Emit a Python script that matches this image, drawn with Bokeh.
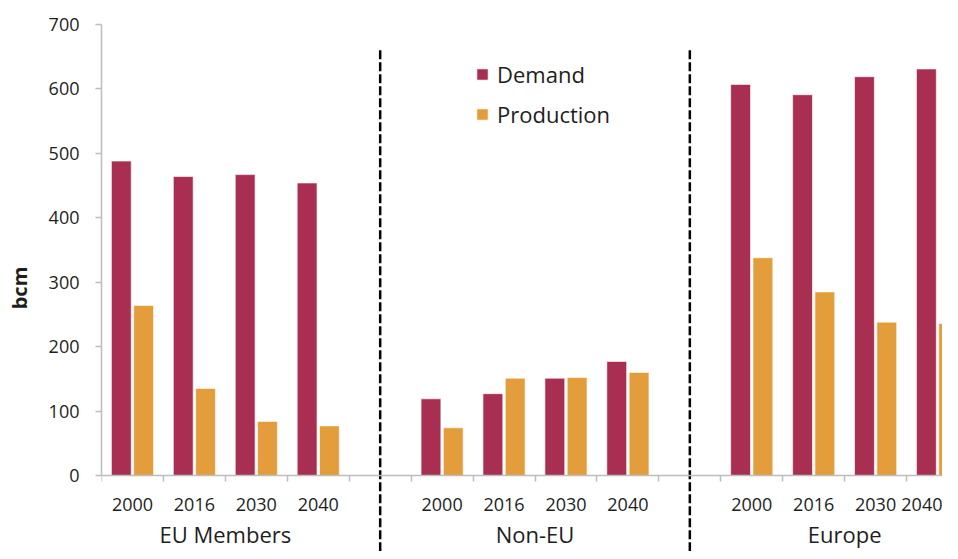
from bokeh.plotting import figure
from bokeh.models import (Range1d, FixedTicker, Legend, ColumnDataSource)
from bokeh.core.properties import value
from bokeh.embed import file_html
from bokeh.resources import INLINE

# ---- data ----
groups = ["EU Members", "Non-EU", "Europe"]
years = ["2000", "2016", "2030", "2040"]
demand_eu = [488, 464, 467, 454]
production_eu = [264, 135, 84, 77]
demand_noneu = [119, 127, 151, 177]
production_noneu = [74, 151, 152, 160]
demand_europe = [607, 591, 619, 631]
production_europe = [338, 285, 238, 236]
y_ticks = [0, 100, 200, 300, 400, 500, 600, 700]

demand = [demand_eu, demand_noneu, demand_europe]
production = [production_eu, production_noneu, production_europe]

DEMAND_COLOR = "#A82E52"
PROD_COLOR = "#E49D3B"
TEXT_COLOR = "#1e1e1e"
AXIS_COLOR = "#BDBDBD"
FONT = "Open Sans"

slot = len(years) + 1  # one blank category between groups
n_cat = slot * len(groups) - 1

xs, dem, prod, labels = [], [], [], {}
for g in range(len(groups)):
    for j, yr in enumerate(years):
        c = g * slot + j + 0.5
        xs.append(c)
        dem.append(demand[g][j])
        prod.append(production[g][j])
        labels[c] = yr

src = ColumnDataSource(dict(
    xd=[x - 0.18 for x in xs],
    xp=[x + 0.18 for x in xs],
    dem=dem, prod=prod))

p = figure(width=942, height=551, output_backend="svg", toolbar_location=None,
           x_range=Range1d(0, 13.58), y_range=Range1d(-117.96, 700),
           min_border_left=101, min_border_right=0, min_border_top=24,
           min_border_bottom=0)
p.outline_line_color = None
p.xgrid.visible = False
p.ygrid.visible = False

bw = 0.32
r1 = p.vbar(x="xd", top="dem", width=bw, source=src, fill_color=DEMAND_COLOR,
            line_color="white", line_alpha=0.6, line_width=1)
r2 = p.vbar(x="xp", top="prod", width=bw, source=src, fill_color=PROD_COLOR,
            line_color="white", line_alpha=0.6, line_width=1)

# group dividers (centre of blank categories)
div_x = [g * slot + len(years) + 0.5 for g in range(len(groups) - 1)]
p.segment(x0=div_x, x1=div_x, y0=[660] * len(div_x), y1=[-140] * len(div_x),
          line_color="black", line_width=2.5, line_dash="9 3")

# group labels
gx = [g * slot + len(years) / 2 for g in range(len(groups))]
p.text(x=gx, y=[-90.8] * len(groups), text=groups, text_align="center",
       text_baseline="alphabetic", text_font=value(FONT), text_font_size="22px",
       text_color=TEXT_COLOR)

# x axis
xa = p.xaxis[0]
xa.fixed_location = 0
xa.ticker = FixedTicker(ticks=xs, minor_ticks=list(range(0, n_cat + 1)))
xa.major_label_overrides = labels
xa.major_tick_out = 0
xa.major_tick_in = 0
xa.minor_tick_out = 6
xa.minor_tick_in = 0
xa.minor_tick_line_color = AXIS_COLOR
xa.minor_tick_line_width = 1.5
xa.axis_line_color = AXIS_COLOR
xa.axis_line_width = 1.5
xa.major_label_standoff = 16
xa.major_label_text_font = FONT
xa.major_label_text_font_size = "18px"
xa.major_label_text_color = TEXT_COLOR

# y axis
ya = p.yaxis[0]
ya.bounds = (0, 700)
ya.ticker = FixedTicker(ticks=y_ticks)
ya.minor_tick_line_color = None
ya.major_tick_out = 6
ya.major_tick_in = 0
ya.major_tick_line_color = AXIS_COLOR
ya.major_tick_line_width = 1.5
ya.axis_line_color = AXIS_COLOR
ya.axis_line_width = 1.5
ya.major_label_standoff = 16
ya.major_label_text_font = FONT
ya.major_label_text_font_size = "18px"
ya.major_label_text_color = TEXT_COLOR
ya.axis_label = "bcm"
ya.axis_label_text_font = FONT
ya.axis_label_text_font_size = "20px"
ya.axis_label_text_font_style = "bold"
ya.axis_label_text_color = TEXT_COLOR
ya.axis_label_standoff = 13

legend = Legend(items=[("Demand", [r1]), ("Production", [r2])],
                location=(374, 422))
legend.background_fill_alpha = 0
legend.border_line_color = None
legend.padding = 0
legend.margin = 0
legend.spacing = 10
legend.glyph_width = 14
legend.glyph_height = 14
legend.label_standoff = 8
legend.label_text_font = FONT
legend.label_text_font_size = "22px"
legend.label_text_color = TEXT_COLOR
p.add_layout(legend)

open("out.html", "w").write(file_html(p, INLINE))
